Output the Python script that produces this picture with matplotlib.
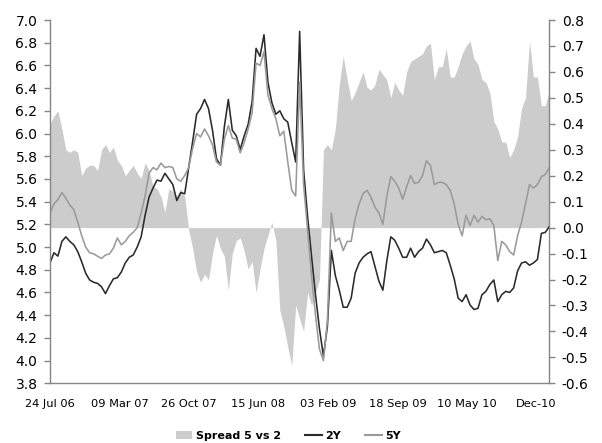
import matplotlib
matplotlib.use("Agg")
import matplotlib.pyplot as plt
from matplotlib.patches import Patch
from matplotlib.lines import Line2D
import numpy as np
import pandas as pd

# Fechas (una observación cada 13 días desde 24 Jul 06)
fechas = pd.date_range("2006-07-24", periods=127, freq="13D")

# Rendimiento 2 años (eje izquierdo)
tasa_2y = [
    4.86, 4.95, 4.92, 5.05, 5.09, 5.05, 5.02, 4.96, 4.87, 4.77,
    4.71, 4.69, 4.68, 4.65, 4.59, 4.66, 4.72, 4.73, 4.78, 4.86,
    4.91, 4.93, 5.00, 5.09, 5.28, 5.44, 5.52, 5.59, 5.58, 5.65,
    5.60, 5.55, 5.41, 5.48, 5.47, 5.70, 5.93, 6.17, 6.22, 6.30,
    6.22, 6.03, 5.78, 5.72, 6.06, 6.30, 6.03, 5.98, 5.86, 5.98,
    6.08, 6.28, 6.75, 6.68, 6.87, 6.45, 6.27, 6.17, 6.20, 6.13,
    6.10, 5.92, 5.75, 6.90, 5.68, 5.27, 4.92, 4.58, 4.28, 4.04,
    4.30, 4.97, 4.75, 4.62, 4.47, 4.47, 4.55, 4.77, 4.86, 4.91,
    4.94, 4.96, 4.83, 4.70, 4.62, 4.88, 5.09, 5.06, 4.99, 4.91,
    4.91, 4.99, 4.91, 4.96, 4.99, 5.07, 5.02, 4.95, 4.96, 4.97,
    4.95, 4.84, 4.72, 4.55, 4.52, 4.58, 4.49, 4.45, 4.46, 4.58,
    4.61, 4.67, 4.71, 4.52, 4.58, 4.61, 4.60, 4.64, 4.79, 4.86,
    4.87, 4.84, 4.86, 4.89, 5.12, 5.13, 5.18,
]

# Rendimiento 5 años (eje izquierdo)
tasa_5y = [
    5.30, 5.38, 5.42, 5.48, 5.43, 5.37, 5.33, 5.22, 5.10, 5.00,
    4.95, 4.94, 4.92, 4.90, 4.93, 4.94, 4.99, 5.08, 5.02, 5.05,
    5.10, 5.13, 5.17, 5.30, 5.45, 5.65, 5.70, 5.68, 5.74, 5.70,
    5.71, 5.70, 5.60, 5.58, 5.63, 5.70, 5.87, 6.00, 5.97, 6.04,
    5.98, 5.90, 5.75, 5.72, 5.95, 6.07, 5.96, 5.95, 5.83, 5.92,
    6.04, 6.18, 6.62, 6.60, 6.72, 6.34, 6.22, 6.13, 5.98, 6.02,
    5.75, 5.50, 5.45, 6.45, 5.55, 5.15, 4.75, 4.40, 4.10, 4.00,
    4.35, 5.30, 5.05, 5.08, 4.97, 5.05, 5.05, 5.25, 5.38, 5.47,
    5.50, 5.44, 5.35, 5.30, 5.20, 5.45, 5.62, 5.58, 5.52, 5.42,
    5.53, 5.63, 5.56, 5.57, 5.63, 5.76, 5.72, 5.55, 5.57, 5.57,
    5.55, 5.50, 5.38, 5.20, 5.10, 5.28, 5.19, 5.28, 5.22, 5.27,
    5.24, 5.25, 5.19, 4.88, 5.05, 5.02, 4.96, 4.93, 5.10, 5.22,
    5.38, 5.55, 5.52, 5.55, 5.62, 5.64, 5.70,
]

# Spread 5 vs 2 (eje derecho)
spread = [
    0.40, 0.43, 0.45, 0.38, 0.30, 0.29, 0.30, 0.29, 0.20, 0.23,
    0.24, 0.24, 0.22, 0.30, 0.32, 0.29, 0.31, 0.26, 0.24, 0.20,
    0.22, 0.24, 0.21, 0.19, 0.25, 0.22, 0.16, 0.15, 0.12, 0.06,
    0.15, 0.14, 0.12, 0.15, 0.12, -0.01, -0.08, -0.17, -0.21, -0.18,
    -0.20, -0.10, -0.03, -0.08, -0.11, -0.24, -0.10, -0.05, -0.04, -0.09,
    -0.16, -0.13, -0.25, -0.16, -0.08, -0.03, 0.02, -0.05, -0.32, -0.38,
    -0.46, -0.53, -0.30, -0.35, -0.40, -0.25, -0.30, -0.25, -0.20, 0.30,
    0.32, 0.30, 0.38, 0.55, 0.66, 0.57, 0.49, 0.52, 0.56, 0.60,
    0.54, 0.53, 0.55, 0.61, 0.59, 0.57, 0.50, 0.56, 0.53, 0.51,
    0.60, 0.64, 0.65, 0.66, 0.67, 0.70, 0.71, 0.57, 0.62, 0.62,
    0.69, 0.58, 0.58, 0.62, 0.67, 0.70, 0.72, 0.65, 0.63, 0.57,
    0.56, 0.52, 0.41, 0.38, 0.33, 0.33, 0.27, 0.30, 0.35, 0.46,
    0.50, 0.72, 0.58, 0.58, 0.47, 0.47, 0.53,
]

# Etiquetas del eje X
etiquetas_x = ["24 Jul 06", "09 Mar 07", "26 Oct 07", "15 Jun 08",
               "03 Feb 09", "18 Sep 09", "10 May 10", "Dec-10"]
fechas_x = pd.date_range("2006-07-24", periods=len(etiquetas_x), freq="228D")

color_spread = "#cccccc"
color_2y = "#2b2b2b"
color_5y = "#9a9a9a"
color_eje = "#868686"


def formato(v):
    # evita que aparezca "-0.0"
    return f"{abs(v):.1f}" if abs(v) < 1e-9 else f"{v:.1f}"


fig = plt.figure(figsize=(6.02, 4.43), dpi=100)
ax = fig.add_axes([50 / 602, 1 - 383.3 / 443, 499.3 / 602, 363.3 / 443])
ax2 = ax.twinx()
ax.set_zorder(ax2.get_zorder() + 1)
ax.patch.set_visible(False)

# Spread como área en el eje derecho
ax2.fill_between(fechas, 0, spread, color=color_spread, lw=0)
ax2.set_ylim(-0.6, 0.8)
ticks_der = np.round(np.arange(-0.6, 0.81, 0.1), 1)
ax2.set_yticks(ticks_der)
ax2.set_yticklabels([formato(v) for v in ticks_der])

# Líneas 2Y y 5Y en el eje izquierdo
ax.plot(fechas, tasa_2y, color=color_2y, lw=1.15)
ax.plot(fechas, tasa_5y, color=color_5y, lw=1.15)
ax.set_ylim(3.8, 7.0)
ticks_izq = np.round(np.arange(3.8, 7.01, 0.2), 1)
ax.set_yticks(ticks_izq)
ax.set_yticklabels([formato(v) for v in ticks_izq])

ax.set_xlim(fechas[0], fechas[-1])
ax.set_xticks(fechas_x)
ax.set_xticklabels(etiquetas_x)

for a in (ax, ax2):
    a.spines["top"].set_visible(False)
    for s in ("left", "right", "bottom"):
        a.spines[s].set_color(color_eje)
        a.spines[s].set_linewidth(1.0)
ax.spines["right"].set_visible(False)
ax2.spines["left"].set_visible(False)
ax2.spines["bottom"].set_visible(False)

ax.tick_params(axis="y", length=4, width=1, color=color_eje, labelsize=10, pad=5)
ax2.tick_params(axis="y", length=4, width=1, color=color_eje, labelsize=10, pad=5)
ax.tick_params(axis="x", length=0, labelsize=8.2, pad=11)

# Leyenda abajo
manejadores = [
    Patch(facecolor=color_spread, edgecolor="none"),
    Line2D([0], [0], color=color_2y, lw=1.5),
    Line2D([0], [0], color=color_5y, lw=1.5),
]
fig.legend(manejadores, ["Spread 5 vs 2", "2Y", "5Y"], loc="center",
           bbox_to_anchor=(0.479, 0.016), ncol=3, frameon=False,
           prop={"weight": "bold", "size": 8}, handlelength=1.5,
           handleheight=0.6, handletextpad=0.3, columnspacing=2.2)

fig.savefig("out.png", dpi=100)
